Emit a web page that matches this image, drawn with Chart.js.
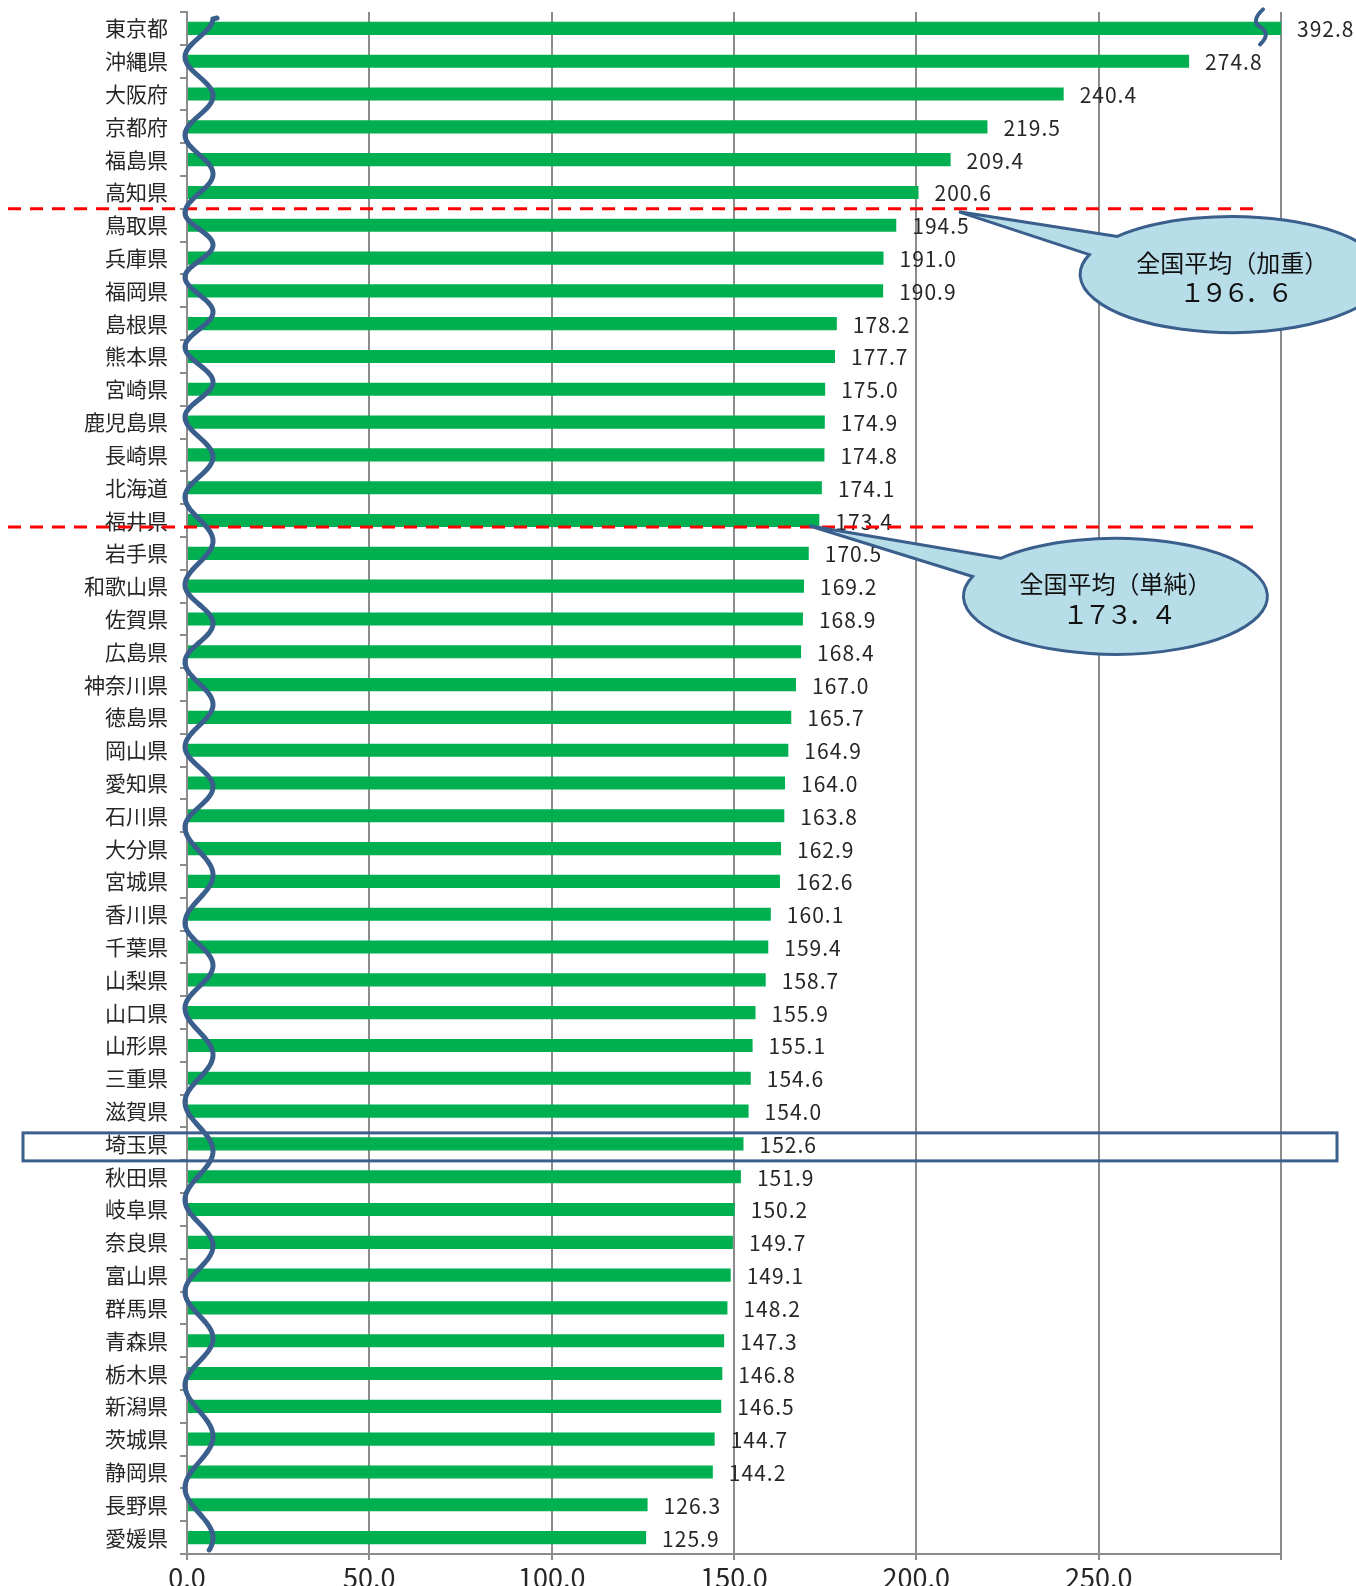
<!DOCTYPE html>
<html lang="ja">
<head>
<meta charset="utf-8">
<script src="https://cdn.jsdelivr.net/npm/chart.js@4.4.1/dist/chart.umd.min.js"></script>
<style>
  html, body { margin: 0; padding: 0; background: #fff; }
  #wrap { width: 1356px; height: 1586px; }
</style>
</head>
<body>
<div id="wrap"><canvas id="chart" width="1356" height="1586"></canvas></div>
<script>
const prefectures = [
  "東京都", "沖縄県", "大阪府", "京都府", "福島県", "高知県", "鳥取県", "兵庫県",
  "福岡県", "島根県", "熊本県", "宮崎県", "鹿児島県", "長崎県", "北海道", "福井県",
  "岩手県", "和歌山県", "佐賀県", "広島県", "神奈川県", "徳島県", "岡山県", "愛知県",
  "石川県", "大分県", "宮城県", "香川県", "千葉県", "山梨県", "山口県", "山形県",
  "三重県", "滋賀県", "埼玉県", "秋田県", "岐阜県", "奈良県", "富山県", "群馬県",
  "青森県", "栃木県", "新潟県", "茨城県", "静岡県", "長野県", "愛媛県",
];
const values = [
  392.8, 274.8, 240.4, 219.5, 209.4, 200.6, 194.5, 191.0,
  190.9, 178.2, 177.7, 175.0, 174.9, 174.8, 174.1, 173.4,
  170.5, 169.2, 168.9, 168.4, 167.0, 165.7, 164.9, 164.0,
  163.8, 162.9, 162.6, 160.1, 159.4, 158.7, 155.9, 155.1,
  154.6, 154.0, 152.6, 151.9, 150.2, 149.7, 149.1, 148.2,
  147.3, 146.8, 146.5, 144.7, 144.2, 126.3, 125.9,
];
const xMin = 0;
const xMax = 300;
const xStep = 50;

// national averages shown as dashed lines + callouts
const avgTitles = ["全国平均（加重）", "全国平均（単純）"];
const avgTexts = ["１９６．６", "１７３．４"];
const avgRows = [5.5, 15.2];          // row position of the dashed line
const highlightRow = prefectures.indexOf("埼玉県");

const FONT = '"Noto Sans CJK JP", "Noto Sans", sans-serif';
const GREEN = "#00b050";
const NAVY = "#3a5f8c";
const GRID = "#8c8c8c";
const TEXT = "#262626";

const valueLabels = {
  id: "valueLabels",
  afterDatasetsDraw(chart) {
    const { ctx, chartArea } = chart;
    const meta = chart.getDatasetMeta(0);
    ctx.save();
    ctx.font = "21px " + FONT;
    ctx.letterSpacing = "1px";
    ctx.fillStyle = TEXT;
    ctx.textBaseline = "middle";
    meta.data.forEach((bar, i) => {
      const x = Math.min(bar.x, chartArea.right) + 16;
      ctx.fillText(values[i].toFixed(1), x, bar.y + 1);
    });
    ctx.restore();
  },
};

function callout(ctx, cx, cy, tipX, tipY, title, text) {
  const rx = 152, ry = 58;
  const a1 = (221 * Math.PI) / 180, a2 = (200 * Math.PI) / 180;
  ctx.beginPath();
  ctx.moveTo(cx + rx * Math.cos(a1), cy + ry * Math.sin(a1));
  ctx.lineTo(tipX, tipY);
  ctx.lineTo(cx + rx * Math.cos(a2), cy + ry * Math.sin(a2));
  ctx.ellipse(cx, cy, rx, ry, 0, a2, a1, true);
  ctx.closePath();
  ctx.fillStyle = "#b7dde8";
  ctx.fill();
  ctx.lineWidth = 3;
  ctx.strokeStyle = NAVY;
  ctx.stroke();
  ctx.fillStyle = "#111";
  ctx.textAlign = "center";
  ctx.textBaseline = "middle";
  ctx.font = "24px " + FONT;
  ctx.fillText(title, cx, cy - 12);
  ctx.font = "26px " + FONT;
  ctx.letterSpacing = "-4px";
  ctx.fillText(text, cx + 2, cy + 18);
  ctx.letterSpacing = "0px";
}

const overlay = {
  id: "overlay",
  afterDraw(chart) {
    const { ctx, chartArea } = chart;
    const xs = chart.scales.x, ys = chart.scales.y;
    ctx.save();

    // dashed average lines
    ctx.strokeStyle = "#ff0000";
    ctx.lineWidth = 3;
    ctx.setLineDash([13, 9]);
    avgRows.forEach((r) => {
      const y = ys.getPixelForValue(r);
      ctx.beginPath();
      ctx.moveTo(8, y);
      ctx.lineTo(xs.getPixelForValue(294), y);
      ctx.stroke();
    });
    ctx.setLineDash([]);

    // axis break wave on the left
    const lefts = [57, 135, 213, 277, 347, 417, 497, 585, 662, 747, 827, 923, 1008, 1102, 1200, 1292, 1385, 1488];
    const cx = chartArea.left + 12, amp = 14;
    ctx.strokeStyle = NAVY;
    ctx.lineWidth = 5;
    ctx.lineCap = "round";
    ctx.beginPath();
    for (let y = 18; y <= 1550; y++) {
      let ph;
      if (y < lefts[0]) ph = (2 * Math.PI * (y - lefts[0])) / 78;
      else if (y >= lefts[lefts.length - 1]) ph = (2 * Math.PI * (y - lefts[lefts.length - 1])) / 100;
      else {
        let k = 0;
        while (lefts[k + 1] <= y) k++;
        ph = (2 * Math.PI * (y - lefts[k])) / (lefts[k + 1] - lefts[k]);
      }
      const x = cx - amp * Math.cos(ph);
      if (y === 18) ctx.moveTo(x + 4, y);
      else ctx.lineTo(x, y);
    }
    ctx.stroke();

    // break mark on the clipped bar
    const top = chart.getDatasetMeta(0).data[0];
    const bx = chartArea.right - 18, by = top.y;
    ctx.lineWidth = 4;
    ctx.beginPath();
    ctx.moveTo(bx, by - 19);
    ctx.quadraticCurveTo(bx - 13, by - 7, bx - 2, by - 1);
    ctx.quadraticCurveTo(bx + 8, by + 6, bx - 3, by + 16);
    ctx.stroke();

    // callouts
    callout(ctx, xs.getPixelForValue(286.6), ys.getPixelForValue(7.5),
      xs.getPixelForValue(211.7), ys.getPixelForValue(5.59), avgTitles[0], avgTexts[0]);
    callout(ctx, xs.getPixelForValue(254.6), ys.getPixelForValue(17.31),
      xs.getPixelForValue(170.6), ys.getPixelForValue(15.16), avgTitles[1], avgTexts[1]);

    // highlight box
    const hy = ys.getPixelForValue(highlightRow);
    ctx.lineWidth = 3;
    ctx.strokeStyle = NAVY;
    ctx.strokeRect(23, hy - 11, 1314, 28);

    ctx.restore();
  },
};

new Chart(document.getElementById("chart"), {
  type: "bar",
  data: {
    labels: prefectures,
    datasets: [
      {
        data: values,
        backgroundColor: GREEN,
        barPercentage: 0.4,
        categoryPercentage: 1.0,
      },
    ],
  },
  options: {
    indexAxis: "y",
    responsive: false,
    animation: false,
    layout: { padding: { top: 12, right: 75, left: 0, bottom: 0 } },
    plugins: {
      legend: { display: false },
      tooltip: { enabled: false },
    },
    scales: {
      x: {
        min: xMin,
        max: xMax,
        ticks: {
          stepSize: xStep,
          callback: (v) => (v === xMax ? "" : v.toFixed(1)),
          font: { family: FONT, size: 27 },
          color: TEXT,
          padding: 2,
          maxRotation: 0,
        },
        grid: { color: GRID, lineWidth: 2, tickLength: 6 },
        border: { color: GRID, width: 2 },
        afterFit: (s) => { s.height = 32; },
      },
      y: {
        ticks: {
          font: { family: FONT, size: 21 },
          color: TEXT,
          padding: 12,
          autoSkip: false,
        },
        grid: { drawOnChartArea: false, offset: true, tickLength: 7, color: GRID, lineWidth: 2 },
        border: { color: GRID, width: 2 },
        afterFit: (s) => { s.width = 187; s.paddingTop = 0; s.paddingBottom = 0; },
      },
    },
  },
  plugins: [valueLabels, overlay],
});
</script>
</body>
</html>
